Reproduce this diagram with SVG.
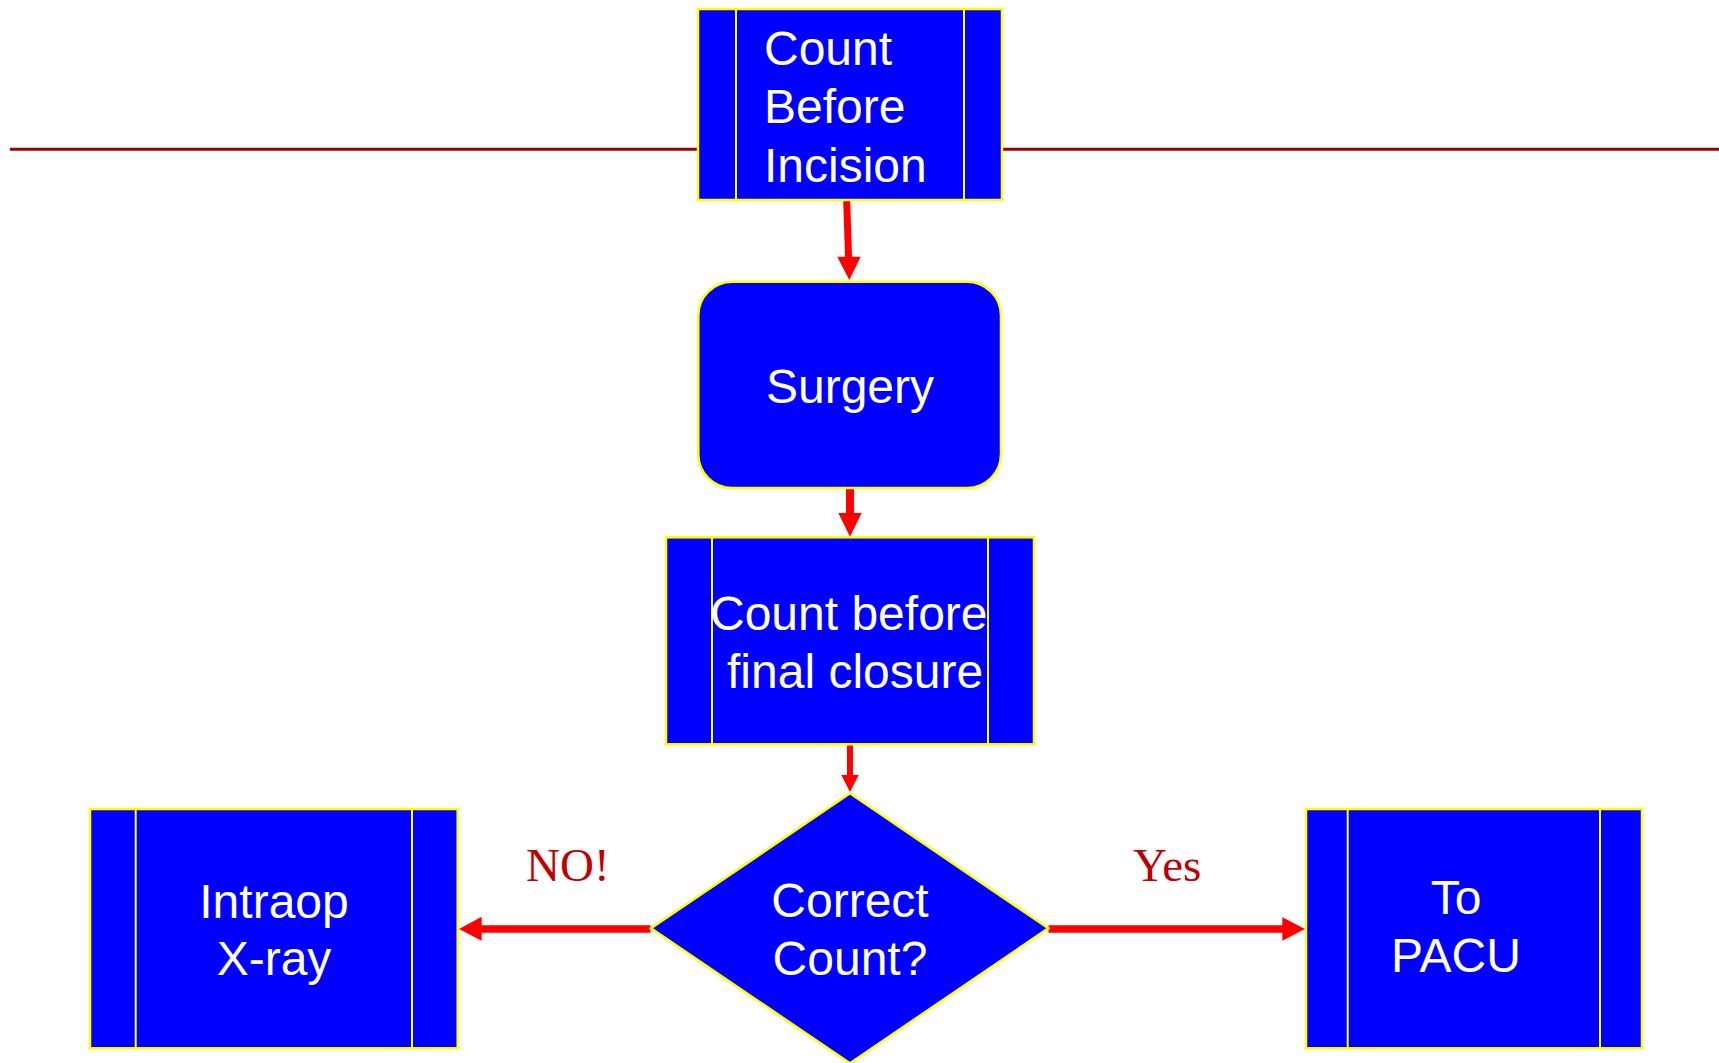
<svg xmlns="http://www.w3.org/2000/svg" width="1719" height="1063" viewBox="0 0 1719 1063">
<style>
.box{fill:#0000FF;stroke:#FFFF00;stroke-width:2.5}
.div{stroke:#FFFF00;stroke-width:2;fill:none}
.t{font-family:"Liberation Sans",Arial,sans-serif;font-size:48px;fill:#FFFFFF}
.lbl{font-family:"Liberation Serif","Times New Roman",serif;font-size:47px;fill:#C00000}
.shaft{stroke:#FF0000;fill:none}
.head{fill:#FF0000}
</style>
<rect x="0" y="0" width="1719" height="1063" fill="#FFFFFF"/>
<line x1="10" y1="149.3" x2="1719" y2="149.3" stroke="#990000" stroke-width="3"/>
<g id="connectors">
<line class="shaft" x1="846.7" y1="201" x2="848.6" y2="258" stroke-width="7"/>
<polygon class="head" points="837.3,256.7 860.7,256.7 849.3,280"/>
<line class="shaft" x1="850" y1="489" x2="850" y2="514" stroke-width="8"/>
<polygon class="head" points="838.3,513 861.7,513 850,536.7"/>
<line class="shaft" x1="850" y1="745" x2="850" y2="776" stroke-width="6"/>
<polygon class="head" points="841.3,775 858.7,775 850,792"/>
<line class="shaft" x1="650.5" y1="929" x2="481" y2="929" stroke-width="7.7"/>
<polygon class="head" points="481.7,916.7 481.7,940.7 459,929"/>
<line class="shaft" x1="1048.5" y1="929" x2="1283" y2="929" stroke-width="7.7"/>
<polygon class="head" points="1282.3,917.3 1282.3,940.7 1305,929"/>
<text class="lbl" x="526" y="881">NO!</text>
<text class="lbl" x="1133" y="881">Yes</text>
</g>
<g id="node-count-before-incision">
<rect class="box" x="698" y="9" width="304" height="191"/>
<line class="div" x1="736" y1="9" x2="736" y2="200"/>
<line class="div" x1="964" y1="9" x2="964" y2="200"/>
<text class="t" x="764" y="65">Count</text>
<text class="t" x="764" y="123">Before</text>
<text class="t" x="764" y="182">Incision</text>
</g>
<g id="node-surgery">
<rect class="box" x="698.3" y="281.7" width="302.7" height="206.3" rx="34" ry="34"/>
<text class="t" x="850" y="403" text-anchor="middle">Surgery</text>
</g>
<g id="node-count-before-closure">
<rect class="box" x="666" y="537.3" width="368" height="207"/>
<line class="div" x1="712" y1="537.3" x2="712" y2="744.3"/>
<line class="div" x1="988" y1="537.3" x2="988" y2="744.3"/>
<text class="t" x="710" y="630">Count before</text>
<text class="t" x="727" y="688">final closure</text>
</g>
<g id="node-correct-count">
<polygon class="box" points="850,793.3 1048.3,928.3 850,1063.3 651,928.3"/>
<text class="t" x="850" y="917" text-anchor="middle">Correct</text>
<text class="t" x="850" y="975" text-anchor="middle">Count?</text>
</g>
<g id="node-intraop-xray">
<rect class="box" x="90" y="809" width="367.7" height="239.3"/>
<line class="div" x1="135.7" y1="809" x2="135.7" y2="1048.3"/>
<line class="div" x1="412" y1="809" x2="412" y2="1048.3"/>
<text class="t" x="274" y="918" text-anchor="middle">Intraop</text>
<text class="t" x="274" y="975" text-anchor="middle">X-ray</text>
</g>
<g id="node-to-pacu">
<rect class="box" x="1306" y="809" width="336" height="239.3"/>
<line class="div" x1="1347.7" y1="809" x2="1347.7" y2="1048.3"/>
<line class="div" x1="1600" y1="809" x2="1600" y2="1048.3"/>
<text class="t" x="1456" y="914" text-anchor="middle">To</text>
<text class="t" x="1456" y="972" text-anchor="middle">PACU</text>
</g>
</svg>
